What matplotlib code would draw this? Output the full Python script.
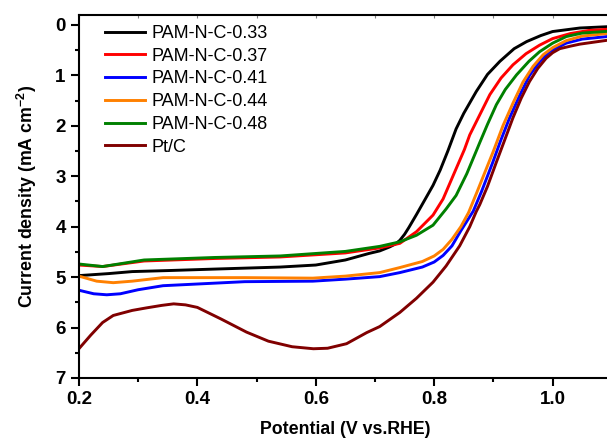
import numpy as np
import matplotlib
matplotlib.use('Agg')
import matplotlib.pyplot as plt
from matplotlib.ticker import MultipleLocator

plt.rcParams['font.family'] = 'Liberation Sans'
plt.rcParams['mathtext.fontset'] = 'custom'
plt.rcParams['mathtext.rm'] = 'Liberation Sans'
plt.rcParams['mathtext.bf'] = 'Liberation Sans:bold'

# LSV curves: potential (V vs RHE) and current density (mA cm-2, plotted as magnitude)
v_033 = [0.20, 0.25, 0.29, 0.35, 0.43, 0.54, 0.60, 0.65, 0.69, 0.708, 0.725, 0.735, 0.742, 0.75, 0.757, 0.770,
         0.785, 0.798, 0.81, 0.823, 0.837, 0.85, 0.871, 0.89, 0.911, 0.935, 0.956, 0.98, 1.0, 1.046, 1.10]
j_033 = [4.97, 4.93, 4.89, 4.87, 4.84, 4.80, 4.76, 4.66, 4.53, 4.48, 4.40, 4.34, 4.27, 4.15, 4.02, 3.76,
         3.45, 3.18, 2.88, 2.50, 2.06, 1.75, 1.32, 0.98, 0.72, 0.47, 0.33, 0.21, 0.13, 0.06, 0.03]

v_037 = [0.20, 0.24, 0.31, 0.43, 0.54, 0.65, 0.708, 0.742, 0.77, 0.798, 0.815, 0.826, 0.837, 0.851, 0.860,
         0.877, 0.894, 0.913, 0.933, 0.955, 0.978, 1.0, 1.03, 1.06, 1.10]
j_037 = [4.76, 4.79, 4.68, 4.63, 4.60, 4.52, 4.42, 4.33, 4.10, 3.77, 3.45, 3.15, 2.85, 2.47, 2.18,
         1.78, 1.38, 1.05, 0.79, 0.57, 0.40, 0.27, 0.17, 0.11, 0.08]

v_041 = [0.20, 0.225, 0.247, 0.27, 0.30, 0.342, 0.48, 0.595, 0.65, 0.708, 0.742, 0.78, 0.80, 0.815, 0.83,
         0.845, 0.866, 0.88, 0.899, 0.912, 0.927, 0.945, 0.961, 0.978, 0.995, 1.023, 1.05, 1.10]
j_041 = [5.26, 5.33, 5.35, 5.33, 5.25, 5.17, 5.09, 5.08, 5.04, 4.99, 4.91, 4.80, 4.70, 4.57, 4.38,
         4.08, 3.69, 3.30, 2.72, 2.30, 1.85, 1.38, 1.00, 0.73, 0.53, 0.36, 0.28, 0.22]

v_044 = [0.20, 0.23, 0.258, 0.29, 0.342, 0.48, 0.595, 0.65, 0.708, 0.742, 0.78, 0.80, 0.815, 0.83, 0.845,
         0.858, 0.872, 0.888, 0.90, 0.916, 0.933, 0.950, 0.967, 0.984, 1.0, 1.023, 1.05, 1.10]
j_044 = [4.98, 5.08, 5.11, 5.08, 5.01, 5.01, 5.02, 4.98, 4.91, 4.81, 4.69, 4.58, 4.45, 4.25, 4.00,
         3.72, 3.32, 2.85, 2.50, 2.00, 1.55, 1.13, 0.82, 0.59, 0.45, 0.31, 0.22, 0.16]

v_048 = [0.20, 0.24, 0.31, 0.43, 0.54, 0.65, 0.708, 0.742, 0.77, 0.798, 0.82, 0.837, 0.855, 0.871, 0.877,
         0.89, 0.905, 0.92, 0.939, 0.96, 0.978, 1.0, 1.023, 1.05, 1.10]
j_048 = [4.74, 4.79, 4.66, 4.61, 4.58, 4.49, 4.39, 4.30, 4.17, 3.97, 3.65, 3.38, 2.95, 2.50, 2.33,
         1.97, 1.58, 1.28, 0.99, 0.72, 0.53, 0.36, 0.23, 0.16, 0.12]

v_ptc = [0.20, 0.22, 0.24, 0.258, 0.29, 0.314, 0.34, 0.36, 0.38, 0.40, 0.44, 0.483, 0.52, 0.56, 0.596,
         0.62, 0.652, 0.686, 0.708, 0.742, 0.77, 0.798, 0.82, 0.843, 0.86, 0.871, 0.877, 0.89, 0.905,
         0.92, 0.933, 0.947, 0.961, 0.975, 0.989, 1.0, 1.012, 1.03, 1.046, 1.07, 1.10]
j_ptc = [6.42, 6.15, 5.90, 5.76, 5.66, 5.61, 5.56, 5.53, 5.55, 5.60, 5.83, 6.09, 6.27, 6.38, 6.42,
         6.41, 6.32, 6.10, 5.98, 5.70, 5.42, 5.10, 4.78, 4.38, 4.00, 3.70, 3.56, 3.20, 2.72,
         2.25, 1.84, 1.45, 1.12, 0.86, 0.66, 0.55, 0.47, 0.42, 0.38, 0.34, 0.29]

labels = ['PAM-N-C-0.33', 'PAM-N-C-0.37', 'PAM-N-C-0.41', 'PAM-N-C-0.44', 'PAM-N-C-0.48', 'Pt/C']
colors = ['black', '#ff0000', '#0000ff', '#ff8000', '#008000', '#800000']

fig = plt.figure(figsize=(6.07, 4.38), dpi=100)
ax = fig.add_axes([0.130, 0.137, 0.878, 0.829])

series = [(v_033, j_033), (v_037, j_037), (v_041, j_041), (v_044, j_044), (v_048, j_048), (v_ptc, j_ptc)]
for (v, j), lab, c in zip(series, labels, colors):
    ax.plot(v, j, color=c, lw=2.1, label=lab)

ax.set_xlim(0.2, 1.1)
ax.set_ylim(7, -0.2)
ax.set_xticks([0.2, 0.4, 0.6, 0.8, 1.0])
ax.set_yticks(range(8))
ax.xaxis.set_minor_locator(MultipleLocator(0.1))
ax.yaxis.set_minor_locator(MultipleLocator(0.5))

ax.tick_params(axis='both', which='major', direction='out', length=6, width=1.5,
               labelsize=13.5, top=False, right=False)
ax.tick_params(axis='both', which='minor', direction='out', length=3, width=1.5,
               top=False, right=False)
for lab in ax.get_xticklabels() + ax.get_yticklabels():
    lab.set_fontweight('bold')

# small inward ticks along the top
sec = ax.secondary_xaxis('top')
sec.set_xticks(np.arange(0.2, 1.11, 0.1))
sec.tick_params(direction='in', length=2, width=0.8, color='grey', labeltop=False)
sec.spines['top'].set_visible(False)

for s in ax.spines.values():
    s.set_linewidth(1.5)
ax.spines['right'].set_visible(False)

ax.set_xlabel('Potential (V vs.RHE)', fontsize=12.8, fontweight='bold', labelpad=9)
ax.set_ylabel(r'Current density (mA cm$^{\mathbf{-2}}$)', fontsize=12.8, fontweight='bold', labelpad=12)

ax.legend(loc='upper left', bbox_to_anchor=(0.03, 1.0), frameon=False, fontsize=13,
          handlelength=2.2, handletextpad=0.4, labelspacing=0.32, borderaxespad=0.15)

fig.savefig('out.png', dpi=100)
